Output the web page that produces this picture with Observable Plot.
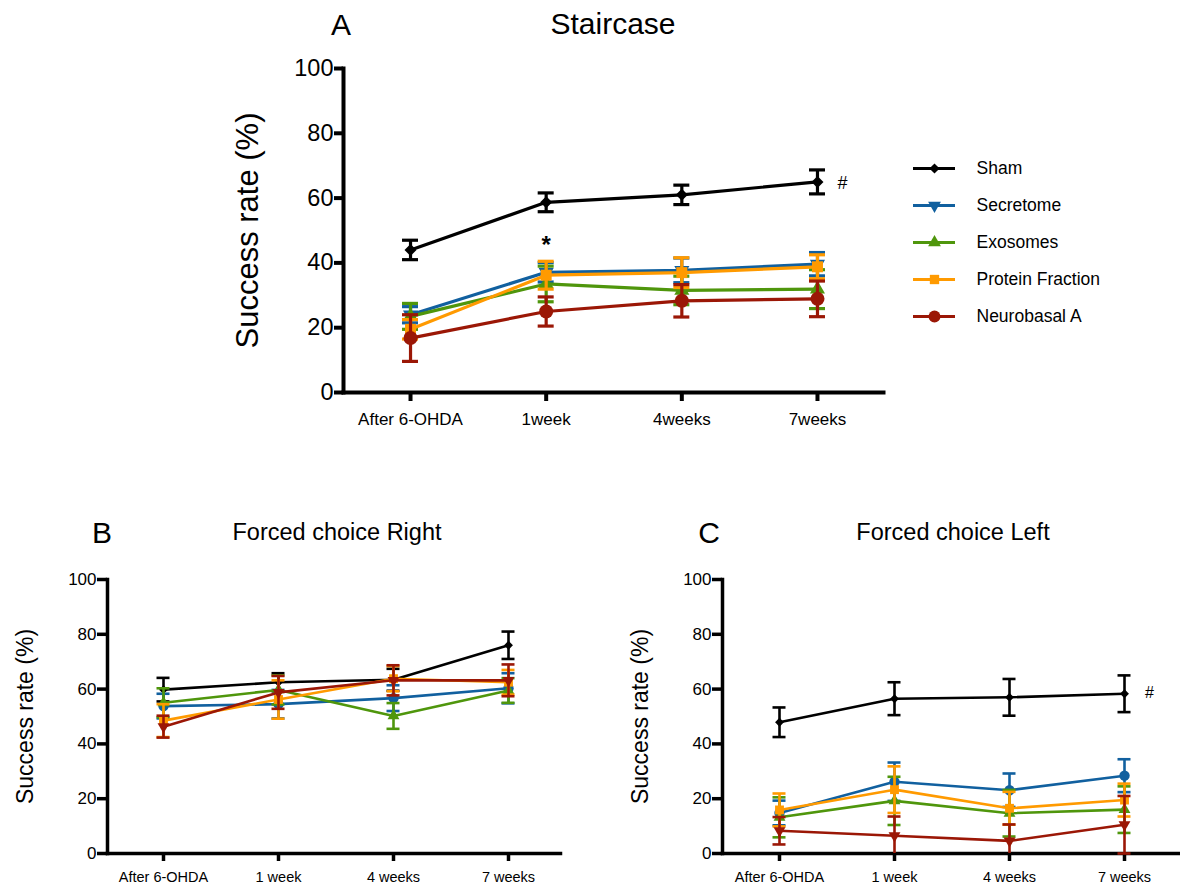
<!DOCTYPE html>
<html><head><meta charset="utf-8">
<script src="https://cdn.jsdelivr.net/npm/d3@7"></script>
<script src="https://cdn.jsdelivr.net/npm/@observablehq/plot@0.6"></script>
<style>
body{margin:0;background:#fff;}
#root{position:relative;width:1180px;height:887px;font-family:"Liberation Sans",Arial,sans-serif;color:#000;overflow:hidden;background:#fff}
.abs{position:absolute;white-space:nowrap;line-height:1;transform:translate(-50%,-50%)}
#root svg{position:absolute;overflow:visible}
</style></head><body><div id="root"></div>
<script>
// ---------- data ----------
const groups = ["Sham", "Secretome", "Exosomes", "Protein Fraction", "Neurobasal A"];
const colors = ["#000000", "#11609f", "#4f960c", "#ff9a00", "#9b1706"];
const timesA = ["After 6-OHDA", "1week", "4weeks", "7weeks"];
const timesBC = ["After 6-OHDA", "1 week", "4 weeks", "7 weeks"];
const yTicks = [0, 20, 40, 60, 80, 100];

// Staircase (A)
const stairMean = {
  "Sham": [44, 58.7, 61, 65],
  "Secretome": [24, 37.1, 37.7, 39.6],
  "Exosomes": [23.5, 33.5, 31.5, 31.9],
  "Protein Fraction": [19.5, 36.2, 37, 38.8],
  "Neurobasal A": [16.8, 25, 28.3, 28.9]
};
const stairErr = {
  "Sham": [3, 2.9, 3, 3.7],
  "Secretome": [2.5, 3, 3.8, 3.6],
  "Exosomes": [4, 5.5, 4.4, 6],
  "Protein Fraction": [3, 4.3, 4.6, 3.7],
  "Neurobasal A": [7.2, 4.5, 5, 5.5]
};
// Forced choice Right (B)
const rightMean = {
  "Sham": [59.8, 62.5, 63.4, 76],
  "Secretome": [53.8, 54.5, 56.7, 60.3],
  "Exosomes": [55, 59.7, 50.2, 59.5],
  "Protein Fraction": [48.5, 56.2, 63.8, 62.5],
  "Neurobasal A": [46.3, 58.8, 63.2, 63.2]
};
const rightErr = {
  "Sham": [4.3, 3.3, 4, 5],
  "Secretome": [4.5, 5.2, 4.7, 5.5],
  "Exosomes": [5.3, 5.3, 4.7, 4.5],
  "Protein Fraction": [6, 7, 4.6, 4.5],
  "Neurobasal A": [4, 6, 5.5, 5.8]
};
// Forced choice Left (C)
const leftMean = {
  "Sham": [47.9, 56.5, 57, 58.3],
  "Secretome": [14.8, 26.2, 23.1, 28.4],
  "Exosomes": [13.2, 19.2, 14.7, 16],
  "Protein Fraction": [15.9, 23.3, 16.5, 19.5],
  "Neurobasal A": [8.3, 6.5, 4.6, 10.5]
};
const leftErr = {
  "Sham": [5.4, 6, 6.7, 6.7],
  "Secretome": [4.5, 7, 6.1, 6],
  "Exosomes": [7.3, 8.8, 8.5, 8.5],
  "Protein Fraction": [6, 8.5, 6, 6],
  "Neurobasal A": [5, 7, 6, 10.5]
};

const annotA = [
  {time: "1week", y: 45.5, text: "*", dx: 0, size: 24, weight: "bold"},
  {time: "7weeks", y: 64.5, text: "#", dx: 25, size: 18, weight: "normal"}
];
const annotB = [];
const annotC = [
  {time: "7 weeks", y: 58.6, text: "#", dx: 25, size: 16, weight: "normal"}
];

// ---------- symbols ----------
const triangleDown = {
  draw(ctx, size) {
    const s3 = Math.sqrt(3);
    const y = -Math.sqrt(size / (s3 * 3));
    ctx.moveTo(0, -y * 2);
    ctx.lineTo(-s3 * y, y);
    ctx.lineTo(s3 * y, y);
    ctx.closePath();
  }
};
const symbolsA = ["diamond2", triangleDown, "triangle", "square", "circle"];
const sizesA = [5.4, 5.6, 5.6, 6.2, 7];
const symBC = ["diamond2", "circle", "triangle", "square", triangleDown];
const sizesBC = [4, 5.2, 4.4, 5, 4.4];

const root = document.getElementById("root");

function panel(o) {
  const rows = [];
  groups.forEach((g, gi) => {
    o.times.forEach((t, i) => {
      const m = o.means[g][i], e = o.errs[g][i];
      rows.push({group: g, gi, time: t, mean: m, lo: Math.max(0, m - e), hi: m + e, loCap: m - e >= 0});
    });
  });
  const bw = (o.xRange[1] - o.xRange[0]) / o.times.length;
  const inset = (bw - o.capW) / 2;
  const marks = [
    Plot.frame({anchor: "left", strokeWidth: o.axisW, strokeLinecap: "square"}),
    Plot.frame({anchor: "bottom", strokeWidth: o.axisW, strokeLinecap: "square"}),
    Plot.axisY({ticks: yTicks, tickSize: o.yTickSize, tickPadding: o.yTickPad, fontSize: o.yFont, strokeWidth: o.axisW, label: null}),
    Plot.axisX({tickSize: o.xTickSize, tickPadding: o.xTickPad, fontSize: o.xFont, strokeWidth: o.axisW, label: null}),
    Plot.text(["Success rate (%)"], {text: d => d, frameAnchor: "left", textAnchor: "middle", rotate: -90, dx: o.ylabDx, fontSize: o.ylabFont})
  ];
  groups.forEach((g, gi) => {
    const d = rows.filter(r => r.group === g);
    const c = colors[gi];
    marks.push(
      Plot.line(d, {x: "time", y: "mean", stroke: c, strokeWidth: o.lineW}),
      Plot.ruleX(d, {x: "time", y1: "lo", y2: "hi", stroke: c, strokeWidth: o.lineW}),
      Plot.tickY(d, {x: "time", y: "hi", stroke: c, strokeWidth: o.lineW, insetLeft: inset, insetRight: inset}),
      Plot.tickY(d.filter(r => r.loCap), {x: "time", y: "lo", stroke: c, strokeWidth: o.lineW, insetLeft: inset, insetRight: inset}),
      Plot.dot(d, {x: "time", y: "mean", r: o.sizes[gi], symbol: o.symbols[gi], fill: c, stroke: "none"})
    );
  });
  o.annots.forEach(a => {
    marks.push(Plot.text([a], {x: "time", y: "y", text: "text", dx: a.dx, fontSize: a.size, fontWeight: a.weight}));
  });
  const svg = Plot.plot({
    width: o.width, height: o.height,
    marginLeft: o.ml, marginRight: o.mr, marginTop: o.mt, marginBottom: o.mb,
    style: {fontFamily: "Liberation Sans, Arial, sans-serif", color: "#000", background: "transparent", overflow: "visible"},
    x: {type: "band", domain: o.times, range: o.xRange, padding: 0, round: false},
    y: {domain: [0, 100]},
    marks
  });
  svg.style.left = o.left + "px";
  svg.style.top = o.top + "px";
  root.appendChild(svg);
}

// Panel A
panel({
  times: timesA, means: stairMean, errs: stairErr, annots: annotA,
  symbols: symbolsA, sizes: sizesA,
  left: 200, top: 40, width: 700, height: 400,
  ml: 143, mr: 17, mt: 28, mb: 48,
  xRange: [142.2, 684.8], capW: 16, lineW: 3.2, axisW: 4,
  yTickSize: 9, yTickPad: 1, yFont: 23.5,
  xTickSize: 9, xTickPad: 11, xFont: 17,
  ylabDx: -95, ylabFont: 31
});
// Panel B
panel({
  times: timesBC, means: rightMean, errs: rightErr, annots: annotB,
  symbols: symBC, sizes: sizesBC,
  left: 0, top: 560, width: 580, height: 327,
  ml: 107, mr: 20, mt: 19, mb: 34,
  xRange: [105.5, 565.5], capW: 13, lineW: 2.6, axisW: 3.5,
  yTickSize: 10, yTickPad: 1, yFont: 17,
  xTickSize: 8, xTickPad: 10, xFont: 14.5,
  ylabDx: -82, ylabFont: 23
});
// Panel C
panel({
  times: timesBC, means: leftMean, errs: leftErr, annots: annotC,
  symbols: symBC, sizes: sizesBC,
  left: 600, top: 560, width: 580, height: 327,
  ml: 122, mr: 0, mt: 19, mb: 34,
  xRange: [121.5, 581.5], capW: 13, lineW: 2.6, axisW: 3.5,
  yTickSize: 10, yTickPad: 1, yFont: 17,
  xTickSize: 8, xTickPad: 10, xFont: 14.5,
  ylabDx: -82, ylabFont: 23
});

// Legend
const legend = Plot.plot({
  width: 240, height: 200, margin: 0,
  style: {fontFamily: "Liberation Sans, Arial, sans-serif", color: "#000", background: "transparent", overflow: "visible"},
  x: {domain: [0, 1], range: [13, 55]},
  y: {type: "point", domain: groups, range: [26.7, 177.3], padding: 0},
  axis: null,
  marks: [
    ...groups.map((g, gi) => Plot.ruleY([g], {y: d => d, x1: 0, x2: 1, stroke: colors[gi], strokeWidth: 3})),
    ...groups.map((g, gi) => Plot.dot([g], {x: 0.5, y: d => d, r: sizesA[gi] * 0.85, symbol: symbolsA[gi], fill: colors[gi], stroke: "none"})),
    Plot.text(groups, {x: 1, y: d => d, text: d => d, dx: 21, textAnchor: "start", fontSize: 17.5})
  ]
});
legend.style.left = "900px";
legend.style.top = "140px";
root.appendChild(legend);

// Titles
function label(text, x, y, size, extra) {
  const el = document.createElement("div");
  el.className = "abs";
  el.textContent = text;
  el.style.left = x + "px";
  el.style.top = y + "px";
  el.style.fontSize = size + "px";
  if (extra) Object.assign(el.style, extra);
  root.appendChild(el);
}
label("A", 341, 25, 30);
label("Staircase", 613, 24, 30);
label("B", 102, 533, 30);
label("Forced choice Right", 337, 533, 23.5);
label("C", 709, 533, 30);
label("Forced choice Left", 953, 533, 23.5);
</script>
</body></html>
